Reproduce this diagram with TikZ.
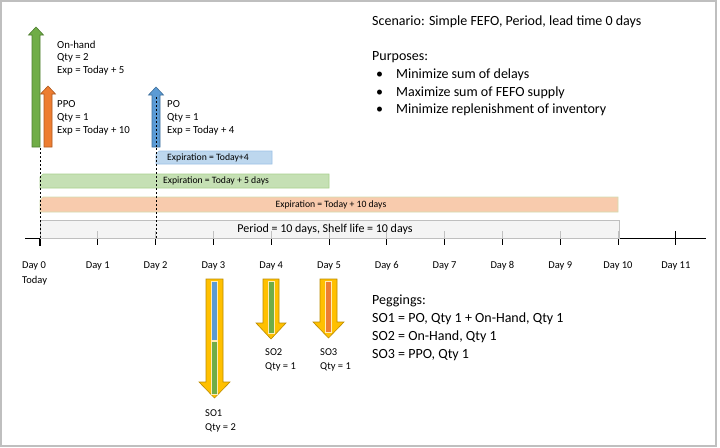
\documentclass[tikz,border=0pt]{standalone}
\usepackage{fontspec}
\setmainfont{Carlito}
\begin{document}
\begin{tikzpicture}[x=1pt,y=-1pt,
  txt/.style={anchor=west,inner sep=0pt,font=\fontsize{10.8}{12.7}\selectfont,align=left},
  sotxt/.style={anchor=west,inner sep=0pt,font=\fontsize{10.5}{13.5}\selectfont,align=left},
  bigtxt/.style={anchor=west,inner sep=0pt,font=\fontsize{14}{17.5}\selectfont,align=left},
  barlbl/.style={inner sep=0pt,font=\fontsize{9.7}{11}\selectfont},
  daylbl/.style={anchor=west,inner sep=0pt,font=\fontsize{10.5}{15}\selectfont,align=left},
  guide/.style={dash pattern=on 2pt off 2pt,line width=0.8pt},
  tick/.style={line width=1pt}]
\definecolor{frameC}{HTML}{BFBFBF}
\definecolor{grnF}{HTML}{70AD47}\definecolor{grnD}{HTML}{507E32}
\definecolor{orgF}{HTML}{ED7D31}\definecolor{orgD}{HTML}{AE5A21}
\definecolor{bluF}{HTML}{5B9BD5}\definecolor{bluD}{HTML}{41719C}
\definecolor{yelF}{HTML}{FFC000}\definecolor{yelD}{HTML}{BC8C00}
\definecolor{bluB}{HTML}{BDD7EE}\definecolor{bluBD}{HTML}{9DC3E6}
\definecolor{grnB}{HTML}{C5E0B4}\definecolor{grnBD}{HTML}{A9D18E}
\definecolor{orgB}{HTML}{F8CBAD}\definecolor{orgBD}{HTML}{D3DDB0}
\definecolor{perB}{HTML}{F2F2F2}

% frame
\useasboundingbox (0,0) rectangle (720,447);
\fill[white] (0,0) rectangle (720,447);
\draw[frameC,line width=2pt] (1,1) rectangle (716,446);

% day positions
\foreach \i in {0,...,11} {\coordinate (d\i) at ({40+57.8*\i},238);}

% axis and ticks
\draw[tick] (25,238) -- (706,238);
\foreach \i in {1,...,11} {\draw[tick] ({40+57.8*\i},231) -- ({40+57.8*\i},245);}
\draw[line width=1.4pt] (40,238) -- (40,246);

% expiration bars (chamfered top-left corner)
\filldraw[fill=bluB,draw=bluBD,line width=0.6pt] (156,164) -- (156,154) -- (159,151) -- (272,151) -- (272,164) -- cycle;
\node[barlbl] (expPO) at (208,157.5) {Expiration = Today+4};
\filldraw[fill=grnB,draw=grnBD,line width=0.6pt] (40,188) -- (40,177) -- (43,174) -- (329,174) -- (329,188) -- cycle;
\node[barlbl] (expOH) at (216,181) {Expiration = Today + 5 days};
\filldraw[fill=orgB,draw=orgBD,line width=0.6pt] (40,212) -- (40,200) -- (43,197) -- (618,197) -- (618,212) -- cycle;
\node[barlbl] (expPPO) at (331,204.5) {Expiration = Today + 10 days};

% period box
\filldraw[fill=perB,fill opacity=0.8,draw=frameC,line width=0.8pt] (40,220) rectangle (619,238);
\node[inner sep=0pt,font=\fontsize{12}{14}\selectfont] (period) at (325,229.5) {Period = 10 days, Shelf life = 10 days};

% dashed guides
\draw[guide] (40,148) -- (40,246);
\draw[guide] (156,148) -- (156,238);

% supply arrows (up)
\filldraw[fill=grnF,draw=grnD,line width=0.6pt] (32,147) -- (32,35) -- (28.5,35) -- (36,27) -- (43.5,35) -- (40,35) -- (40,147) -- cycle;
\filldraw[fill=orgF,draw=orgD,line width=0.6pt] (44,147) -- (44,94) -- (40.5,94) -- (48,86) -- (55.5,94) -- (52,94) -- (52,147) -- cycle;
\filldraw[fill=bluF,draw=bluD,line width=0.6pt] (152,147) -- (152,95) -- (148.5,95) -- (156,87) -- (163.5,95) -- (160,95) -- (160,147) -- cycle;
\draw[guide] (156,97) -- (156,148);

\node[txt] (onhand) at (57,58) {On-hand\\Qty = 2\\Exp = Today + 5};
\node[txt] (ppo) at (57,118) {PPO\\Qty = 1\\Exp = Today + 10};
\node[txt] (po) at (167,118) {PO\\Qty = 1\\Exp = Today + 4};

% day labels
\foreach \i in {1,...,11} {\node[inner sep=0pt,font=\fontsize{10.5}{12}\selectfont] (lbl\i) at ({40+57.8*\i},266) {Day \i};}
\node[daylbl] (lbl0) at (22,273.5) {Day 0\\Today};

% demand arrows (down)
\filldraw[fill=yelF,draw=yelD,line width=0.6pt] (206,279) -- (223,279) -- (223,382) -- (230,382) -- (214.5,398) -- (199,382) -- (206,382) -- cycle;
\filldraw[fill=bluF,draw=yelF!30!white,line width=0.7pt] (211.5,281) rectangle (217.5,340);
\filldraw[fill=grnF,draw=yelF!30!white,line width=0.7pt] (211.5,341) rectangle (217.5,394);

\filldraw[fill=yelF,draw=yelD,line width=0.6pt] (263,279) -- (279,279) -- (279,323) -- (286,323) -- (271,339) -- (256,323) -- (263,323) -- cycle;
\filldraw[fill=grnF,draw=yelF!30!white,line width=0.7pt] (268,281) rectangle (274,333);

\filldraw[fill=yelF,draw=yelD,line width=0.6pt] (320,279) -- (337,279) -- (337,322) -- (344,322) -- (328.5,338) -- (313,322) -- (320,322) -- cycle;
\filldraw[fill=orgF,draw=yelF!30!white,line width=0.7pt] (325.5,281) rectangle (331.5,332);

\node[sotxt] (so1) at (205,421) {SO1\\Qty = 2};
\node[sotxt] (so2) at (265,360) {SO2\\Qty = 1};
\node[sotxt] (so3) at (320,360) {SO3\\Qty = 1};

% notes
\node[bigtxt] (scenario) at (372,22) {Scenario: Simple FEFO, Period, lead time 0 days};
\node[bigtxt] (purposes) at (372,57) {Purposes:};
\node[bigtxt] (p1) at (372,75) {\makebox[24pt][l]{\hspace{4pt}\textbullet}Minimize sum of delays};
\node[bigtxt] (p2) at (372,92.5) {\makebox[24pt][l]{\hspace{4pt}\textbullet}Maximize sum of FEFO supply};
\node[bigtxt] (p3) at (372,110) {\makebox[24pt][l]{\hspace{4pt}\textbullet}Minimize replenishment of inventory};

\node[bigtxt] (peg) at (372,301) {Peggings:};
\node[bigtxt] (peg1) at (372,319) {SO1 = PO, Qty 1 + On-Hand, Qty 1};
\node[bigtxt] (peg2) at (372,337) {SO2 = On-Hand, Qty 1};
\node[bigtxt] (peg3) at (372,355) {SO3 = PPO, Qty 1};
\end{tikzpicture}
\end{document}
